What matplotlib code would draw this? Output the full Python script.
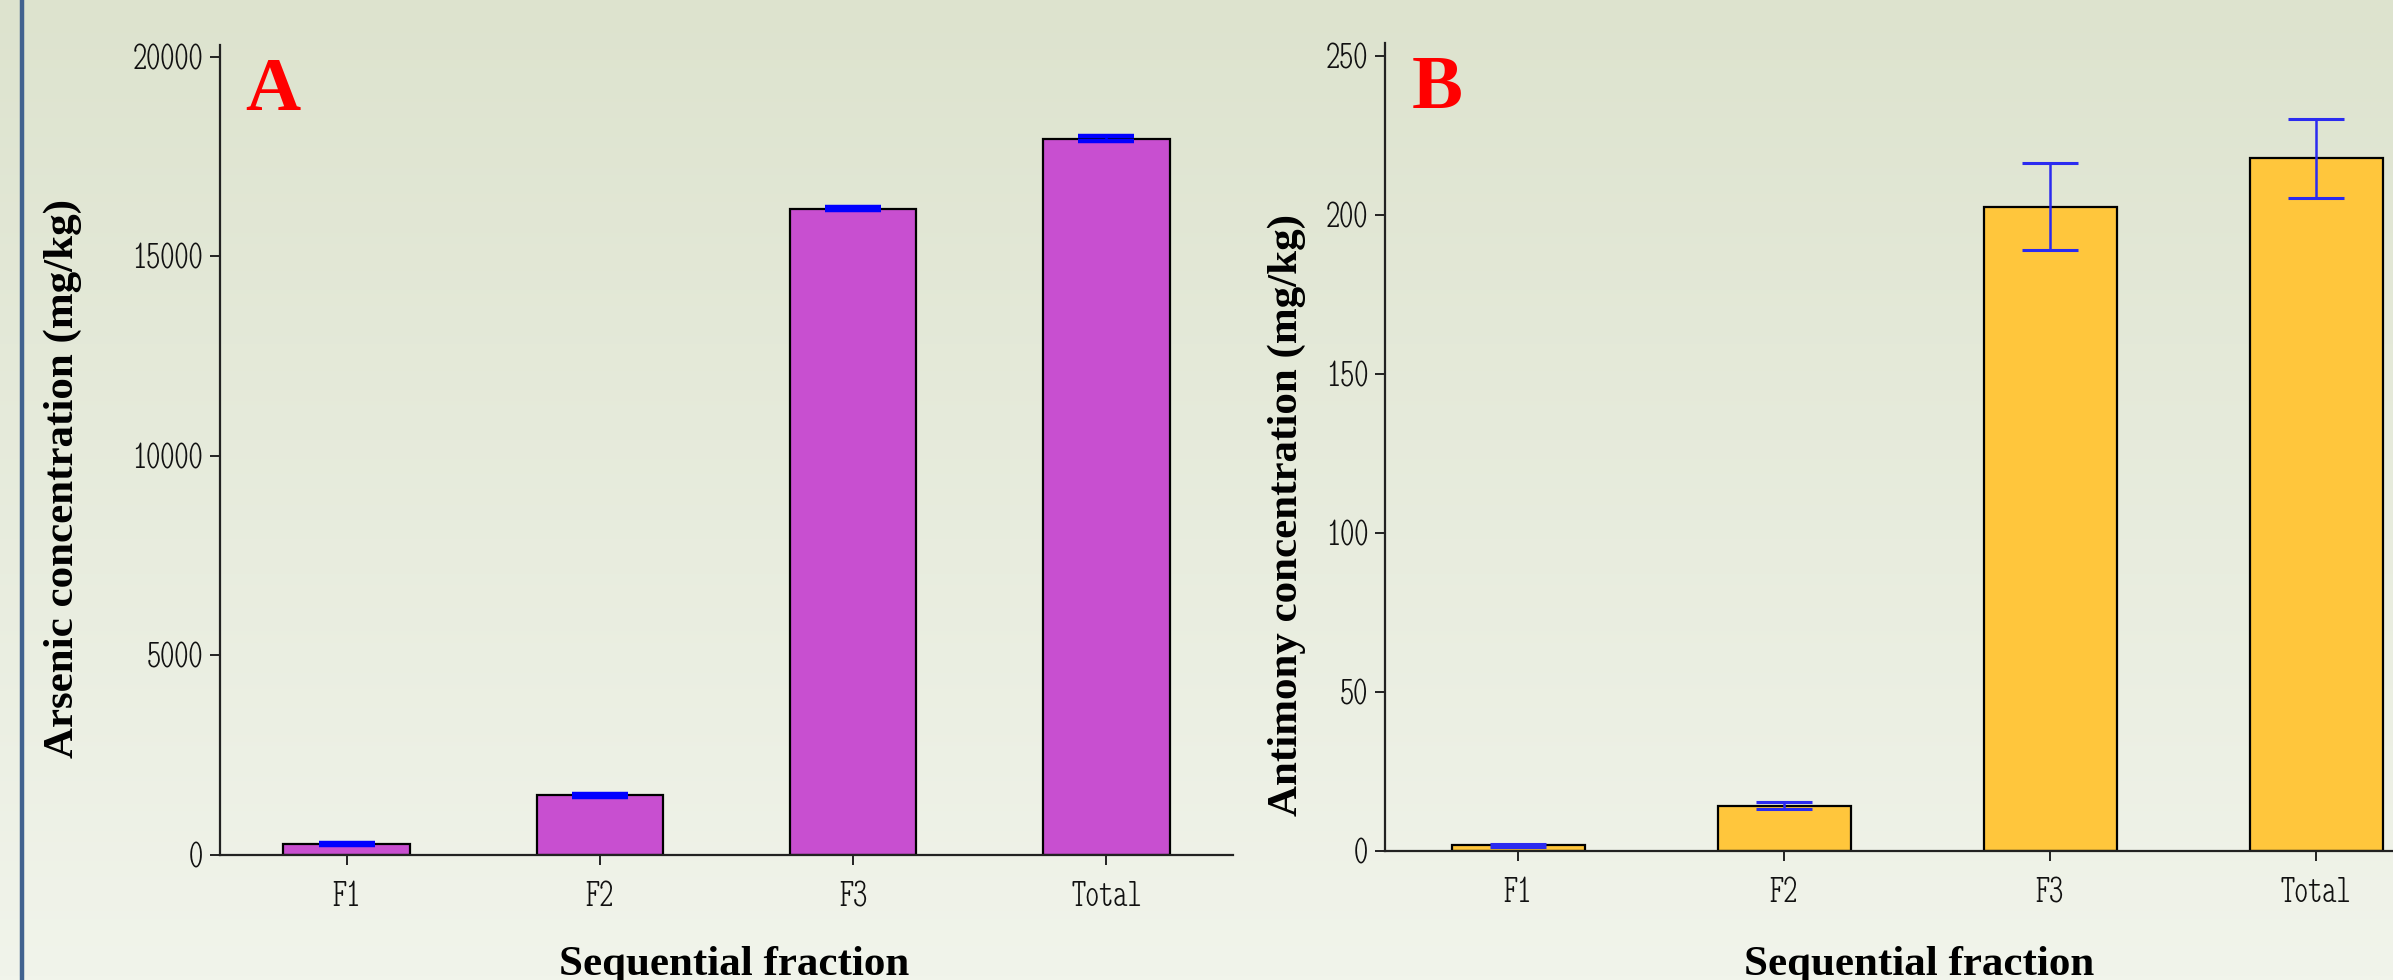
import numpy as np
import matplotlib
matplotlib.use('Agg')
import matplotlib.pyplot as plt
from matplotlib.lines import Line2D

categories = ['F1', 'F2', 'F3', 'Total']
arsenic = [270, 1500, 16200, 17950]
arsenic_err = [20, 35, 30, 60]
antimony = [1.8, 14.2, 202.6, 217.7]
antimony_err = [0.5, 1.1, 13.6, 12.5]
arsenic_ticks = [0, 5000, 10000, 15000, 20000]
antimony_ticks = [0, 50, 100, 150, 200, 250]

W, H = 2393, 980
fig = plt.figure(figsize=(W / 100, H / 100), dpi=100)

bg = fig.add_axes([0, 0, 1, 1], zorder=-10)
top = np.array([221, 227, 206]) / 255
bot = np.array([241, 244, 235]) / 255
t = np.linspace(0, 1, 256)[:, None]
grad = top * (1 - t) + bot * t
bg.imshow(grad[:, None, :], aspect='auto', extent=[0, 1, 0, 1])
bg.axis('off')
fig.add_artist(Line2D([21.5 / W, 21.5 / W], [0, 1], color='#41628f', lw=3.2))

tick_font = dict(family=['Latin Modern Mono Light Cond', 'DejaVu Sans Mono'], size=29,
                 color='#111111', weight='bold')
label_font = dict(family='Liberation Serif', weight='bold', size=31)


def px(x0, y0, x1, y1):
    return [x0 / W, 1 - y1 / H, (x1 - x0) / W, (y1 - y0) / H]


def panel(rect, vals, errs, ticks, ylim, color, ecolor, capthick, ylabel, letter, ylab_xy, xlab_xy):
    ax = fig.add_axes(rect)
    ax.patch.set_alpha(0)
    x = np.arange(len(categories))
    ax.bar(x, vals, width=0.5, color=color, edgecolor='black', linewidth=1.6, zorder=2)
    ax.errorbar(x, vals, yerr=errs, fmt='none', ecolor=ecolor, elinewidth=1.8,
                capsize=20, capthick=capthick, zorder=3)
    ax.set_xlim(-0.5, 3.5)
    ax.set_ylim(*ylim)
    ax.set_xticks(x)
    ax.set_xticklabels(categories, **tick_font)
    ax.set_yticks(ticks)
    ax.set_yticklabels([str(v) for v in ticks], **tick_font)
    for s in ['top', 'right']:
        ax.spines[s].set_visible(False)
    for s in ['left', 'bottom']:
        ax.spines[s].set_linewidth(1.6)
        ax.spines[s].set_color('#222222')
    ax.tick_params(length=7, width=1.4, color='#222222', pad=5)
    ax.tick_params(axis='x', pad=12)
    ax.set_ylabel(ylabel, **label_font)
    ax.set_xlabel('Sequential fraction', **label_font)
    ax.yaxis.set_label_coords(*ylab_xy)
    ax.xaxis.set_label_coords(*xlab_xy)
    ax.text(0.025, 0.985, letter, transform=ax.transAxes, color='red',
            family='Liberation Serif', weight='bold', size=55, va='top', ha='left')
    return ax


panel(px(220, 45, 1233, 855), arsenic, arsenic_err, arsenic_ticks, (0, 20300),
      '#c84fd0', '#0000ff', 3.2, 'Arsenic concentration (mg/kg)', 'A', (-0.136, 0.465), (0.508, -0.112))
panel(px(1385, 43, 2449, 851), antimony, antimony_err, antimony_ticks, (0, 254),
      '#ffc63c', '#2b2bf0', 2.2, 'Antimony concentration (mg/kg)', 'B', (-0.074, 0.416), (0.502, -0.117))

fig.savefig('out.png', dpi=100)
